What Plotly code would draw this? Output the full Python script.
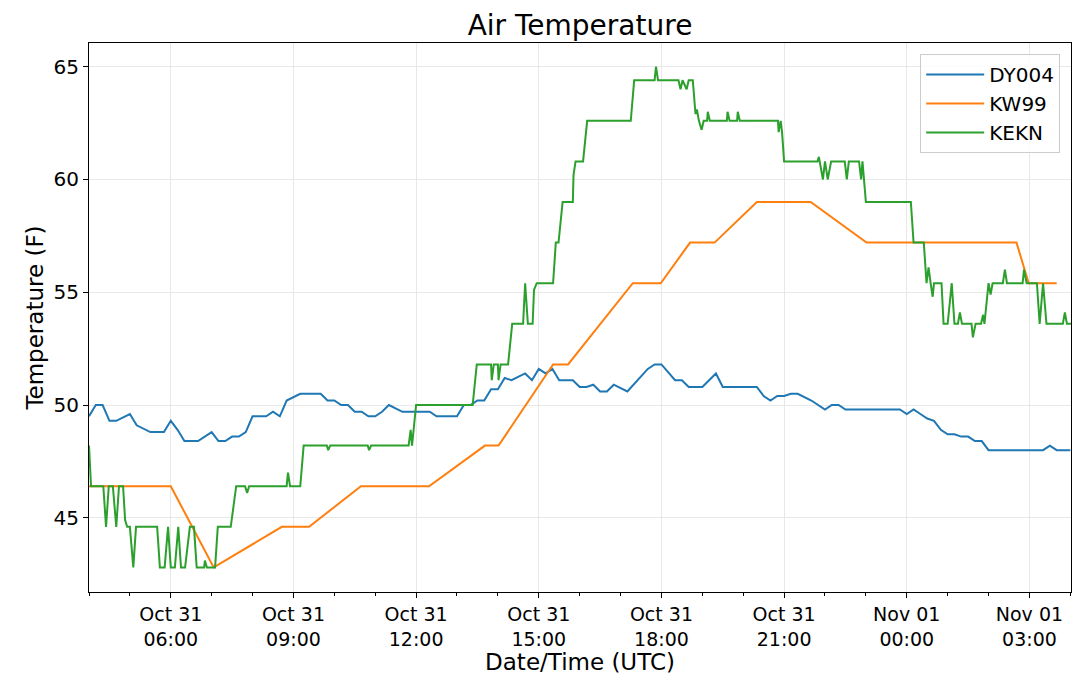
import pandas as pd
import plotly.graph_objects as go

# all times are minutes after 2018-10-31 00:00 UTC
base = pd.Timestamp("2018-10-31 00:00")

dy004_min = [240, 250, 260, 270, 280, 300, 310, 330, 350, 360, 370, 380, 400, 420, 430,
             440, 450, 460, 470, 480, 500, 510, 520, 530, 550, 580, 590, 600, 610, 620,
             630, 640, 650, 660, 670, 680, 700, 740, 750, 780, 790, 800, 810, 820, 830,
             840, 850, 860, 880, 890, 900, 910, 920, 930, 950, 960, 970, 980, 990, 1000,
             1010, 1030, 1060, 1070, 1080, 1100, 1110, 1120, 1140, 1160, 1170, 1220, 1230,
             1240, 1250, 1260, 1270, 1280, 1300, 1320, 1330, 1340, 1350, 1430, 1440, 1450,
             1460, 1470, 1480, 1490, 1500, 1510, 1520, 1530, 1540, 1550, 1560, 1640, 1650,
             1660, 1680]
dy004_temp = [49.5, 50.0, 50.0, 49.3, 49.3, 49.6, 49.1, 48.8, 48.8, 49.3, 48.9, 48.4, 48.4,
              48.8, 48.4, 48.4, 48.6, 48.6, 48.8, 49.5, 49.5, 49.7, 49.5, 50.2, 50.5, 50.5,
              50.2, 50.2, 50.0, 50.0, 49.7, 49.7, 49.5, 49.5, 49.7, 50.0, 49.7, 49.7, 49.5,
              49.5, 50.0, 50.0, 50.2, 50.2, 50.7, 50.7, 51.2, 51.1, 51.4, 51.1, 51.6, 51.4,
              51.6, 51.1, 51.1, 50.8, 50.8, 50.9, 50.6, 50.6, 50.9, 50.6, 51.6, 51.8, 51.8,
              51.1, 51.1, 50.8, 50.8, 51.4, 50.8, 50.8, 50.4, 50.2, 50.4, 50.4, 50.5, 50.5,
              50.2, 49.8, 50.0, 50.0, 49.8, 49.8, 49.6, 49.8, 49.6, 49.4, 49.3, 48.9, 48.7,
              48.7, 48.6, 48.6, 48.4, 48.4, 48.0, 48.0, 48.2, 48.0, 48.0]

kw99_min = [240, 360, 423, 523, 563, 639, 739, 821, 841, 921, 943, 1038, 1079, 1122, 1158,
            1220, 1299, 1381, 1601, 1619, 1660]
kw99_temp = [46.4, 46.4, 42.8, 44.6, 44.6, 46.4, 46.4, 48.2, 48.2, 51.8, 51.8, 55.4, 55.4,
             57.2, 57.2, 59.0, 59.0, 57.2, 57.2, 55.4, 55.4]

kekn_min = [240, 243, 261, 265, 269, 275, 280, 284, 290, 293, 296, 300, 305, 309, 340, 344,
            351, 356, 360, 366, 371, 375, 381, 388, 394, 398, 409, 410, 413, 425, 429, 448,
            456, 469, 472, 475, 530, 532, 535, 550, 555, 589, 591, 594, 649, 651, 654, 709,
            712, 714, 720, 803, 809, 830, 831, 834, 840, 841, 844, 855, 861, 877, 880, 884,
            891, 893, 897, 921, 925, 929, 935, 950, 951, 954, 965, 971, 1035, 1040, 1070,
            1072, 1075, 1105, 1108, 1111, 1117, 1120, 1126, 1130, 1132, 1135, 1139, 1142,
            1147, 1148, 1151, 1176, 1177, 1180, 1191, 1192, 1195, 1251, 1252, 1255, 1257,
            1260, 1309, 1311, 1317, 1320, 1324, 1329, 1349, 1352, 1355, 1370, 1373, 1375,
            1380, 1446, 1450, 1465, 1469, 1472, 1475, 1478, 1480, 1491, 1494, 1500, 1506,
            1510, 1515, 1518, 1521, 1535, 1537, 1541, 1549, 1552, 1554, 1560, 1563, 1566,
            1581, 1584, 1587, 1610, 1612, 1616, 1631, 1635, 1640, 1645, 1669, 1672, 1675,
            1681]
kekn_temp = [48.2, 46.4, 46.4, 44.6, 46.4, 46.4, 44.6, 46.4, 46.4, 44.9, 44.6, 44.6, 42.8,
             44.6, 44.6, 42.8, 42.8, 44.6, 42.8, 42.8, 44.6, 42.8, 42.8, 44.6, 44.6, 42.8,
             42.8, 43.1, 42.8, 42.8, 44.6, 44.6, 46.4, 46.4, 46.1, 46.4, 46.4, 47.0, 46.4,
             46.4, 48.2, 48.2, 48.0, 48.2, 48.2, 48.0, 48.2, 48.2, 48.9, 48.2, 50.0, 50.0,
             51.8, 51.8, 51.1, 51.8, 51.8, 51.1, 51.8, 51.8, 53.6, 53.6, 55.4, 53.6, 53.6,
             55.1, 55.4, 55.4, 57.2, 57.2, 59.0, 59.0, 60.2, 60.8, 60.8, 62.6, 62.6, 64.4,
             64.4, 65.0, 64.4, 64.4, 64.0, 64.4, 64.0, 64.4, 64.4, 62.9, 63.1, 62.6, 62.2,
             62.6, 62.6, 63.0, 62.6, 62.6, 63.0, 62.6, 62.6, 63.0, 62.6, 62.6, 62.1, 62.6,
             62.1, 60.8, 60.8, 61.0, 60.0, 60.8, 60.0, 60.8, 60.8, 60.0, 60.8, 60.8, 60.0,
             60.8, 59.0, 59.0, 57.2, 57.2, 55.4, 56.1, 55.4, 54.8, 55.4, 55.4, 53.6, 53.6,
             55.4, 53.6, 53.6, 54.1, 53.6, 53.6, 53.0, 53.6, 53.6, 54.0, 53.6, 55.4, 54.9,
             55.4, 55.4, 56.0, 55.4, 55.4, 56.0, 55.4, 55.4, 53.6, 55.4, 53.6, 53.6, 54.1,
             53.6, 53.6]

x_tick_min = [360, 540, 720, 900, 1080, 1260, 1440, 1620]
x_tick_text = ["Oct 31<br>06:00", "Oct 31<br>09:00", "Oct 31<br>12:00", "Oct 31<br>15:00",
               "Oct 31<br>18:00", "Oct 31<br>21:00", "Nov 01<br>00:00", "Nov 01<br>03:00"]
y_ticks = [45, 50, 55, 60, 65]


def to_time(minutes):
    return base + pd.to_timedelta(minutes, unit="min")


series = [
    ("DY004", dy004_min, dy004_temp, "#1f77b4"),
    ("KW99", kw99_min, kw99_temp, "#ff7f0e"),
    ("KEKN", kekn_min, kekn_temp, "#2ca02c"),
]

fig = go.Figure()
for name, mins, temps, color in series:
    fig.add_trace(go.Scatter(
        x=to_time(mins), y=temps, name=name, mode="lines",
        line=dict(color=color, width=2),
    ))

# the page body adds an 8px offset, so margins are trimmed to compensate
font_family = "DejaVu Sans"
fig.update_layout(
    width=1080,
    height=690,
    margin=dict(l=81, r=17, t=35, b=106),
    paper_bgcolor="white",
    plot_bgcolor="white",
    font=dict(family=font_family, color="black", size=19),
    title=dict(text="Air Temperature", x=0.5, xref="paper", y=0.975, yref="container",
               xanchor="center", yanchor="middle", font=dict(size=28)),
    legend=dict(x=0.989, y=0.98, xanchor="right", yanchor="top",
                bgcolor="rgba(255,255,255,0.8)", bordercolor="#cccccc", borderwidth=1,
                font=dict(size=20), itemwidth=58),
    showlegend=True,
)
fig.update_xaxes(
    range=[to_time(240), to_time(1681)],
    tickvals=to_time(x_tick_min), ticktext=x_tick_text,
    ticks="outside", ticklen=5, tickcolor="black",
    showline=True, linecolor="black", linewidth=1, mirror=True,
    showgrid=True, gridcolor="#e8e8e8", gridwidth=1, zeroline=False,
    minor=dict(dtick=3600000, tick0=to_time(240), ticks="outside", ticklen=3,
               tickcolor="black", showgrid=False),
    title=dict(text="Date/Time (UTC)", font=dict(size=23), standoff=2),
    tickfont=dict(size=19),
)
fig.update_yaxes(
    range=[41.71, 66.05],
    tickvals=y_ticks,
    ticks="outside", ticklen=5, tickcolor="black",
    showline=True, linecolor="black", linewidth=1, mirror=True,
    showgrid=True, gridcolor="#e8e8e8", gridwidth=1, zeroline=False,
    title=dict(text="Temperature (F)", font=dict(size=23), standoff=3),
    tickfont=dict(size=20),
)

fig.write_html("out.html")
